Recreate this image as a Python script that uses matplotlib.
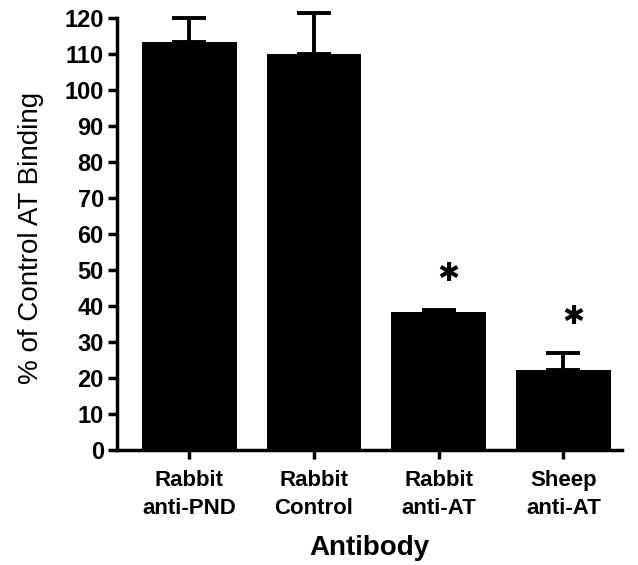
import matplotlib
matplotlib.use("Agg")
import matplotlib.pyplot as plt
import numpy as np

plt.rcParams['font.family'] = ['Liberation Sans', 'DejaVu Sans']

# data
labels = ["Rabbit\nanti-PND", "Rabbit\nControl", "Rabbit\nanti-AT", "Sheep\nanti-AT"]
means = [113.3, 110.0, 38.4, 22.3]
errors = [6.6, 11.4, 0.4, 4.5]
significant = [False, False, True, True]

fig = plt.figure(figsize=(6.38, 5.65), dpi=100)
ax = fig.add_axes([0.1834, 0.2035, 0.7916, 0.765])

x = np.arange(len(labels))
ax.bar(x, means, width=0.76, color="black")
eb = ax.errorbar(x, means, yerr=[np.zeros(len(errors)), errors], fmt="none",
                 ecolor="black", elinewidth=2.8, capsize=12, capthick=2.8)
for art in eb.lines[1] + eb.lines[2]:
    art.set_clip_on(False)

for xi, m, e, s in zip(x, means, errors, significant):
    if s:
        ax.text(xi + 0.08, m + e + 10, "\u2731", ha="center", va="center",
                fontsize=19, family="DejaVu Sans")

ax.set_xlim(-0.58, 3.47)
ax.set_ylim(0, 120)
ax.set_yticks(np.arange(0, 121, 10))
ax.set_xticks(x)
ax.set_xticklabels(labels, fontsize=16, fontweight="bold", linespacing=1.4)
for t in ax.get_yticklabels():
    t.set_fontsize(17)
    t.set_fontweight("bold")

ax.spines["top"].set_visible(False)
ax.spines["right"].set_visible(False)
ax.spines["left"].set_linewidth(2.5)
ax.spines["bottom"].set_linewidth(2.5)
ax.tick_params(axis="both", width=2.5, length=6.5, direction="out", pad=3)
ax.tick_params(axis="x", pad=8)

ax.set_ylabel("% of Control AT Binding", fontsize=20)
ax.yaxis.set_label_coords(-0.145, 0.49)
ax.set_xlabel("Antibody", fontsize=20, fontweight="bold", labelpad=12)

fig.savefig("out.png", dpi=100)
